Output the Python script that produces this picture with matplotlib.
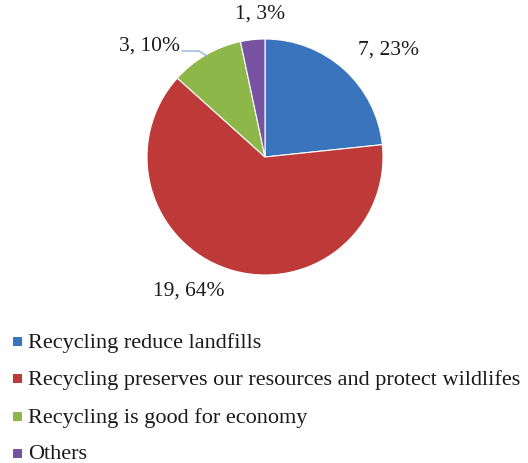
import numpy as np
import matplotlib.pyplot as plt
from matplotlib.patches import Rectangle

# data
categories = ["Recycling reduce landfills",
              "Recycling preserves our resources and protect wildlifes",
              "Recycling is good for economy",
              "Others"]
counts = [7, 19, 3, 1]
pct_labels = ["23%", "64%", "10%", "3%"]
colors = ["#3A74BC", "#BE3A38", "#8DB748", "#7752A0"]

plt.rcParams["font.family"] = ["Liberation Serif", "DejaVu Serif"]

fig = plt.figure(figsize=(5.28, 4.64), dpi=100)
ax = fig.add_axes([0, 0, 1, 1])

cx, cy, r = 265, 158, 118

# y axis points down, so counterclock=True in data coords is clockwise on screen
wedges, _ = ax.pie(counts, colors=colors, center=(cx, cy), radius=r,
                   startangle=-90, counterclock=True,
                   wedgeprops=dict(edgecolor="white", linewidth=0.8))
ax.set_xlim(0, 528)
ax.set_ylim(464, 0)
ax.set_aspect("equal")
ax.axis("off")

# label placement: (distance factor, screen angle tweak in degrees)
label_pos = [(1.39, -7), (1.30, -12), (1.36, 16), (1.22, -4)]
for w, n, p, (f, da) in zip(wedges, counts, pct_labels, label_pos):
    mid = np.deg2rad((w.theta1 + w.theta2) / 2 - da)
    x = cx + f * r * np.cos(mid)
    y = cy + f * r * np.sin(mid)
    ax.text(x, y, f"{n}, {p}", ha="center", va="center", fontsize=15.5,
            color="#1a1a1a")

# leader line for the small green slice label
ax.plot([182, 199, 207], [52, 52, 57], color="#8FB4E3", linewidth=1)

# legend
y0, dy = 343, 37.3
for i, (c, lab) in enumerate(zip(colors, categories)):
    y = y0 + i * dy
    ax.add_patch(Rectangle((13, y - 5), 9, 9, facecolor=c, edgecolor="none"))
    ax.text(28, y, lab, ha="left", va="center", fontsize=16, color="#1a1a1a")

fig.savefig("out.png", dpi=100)
